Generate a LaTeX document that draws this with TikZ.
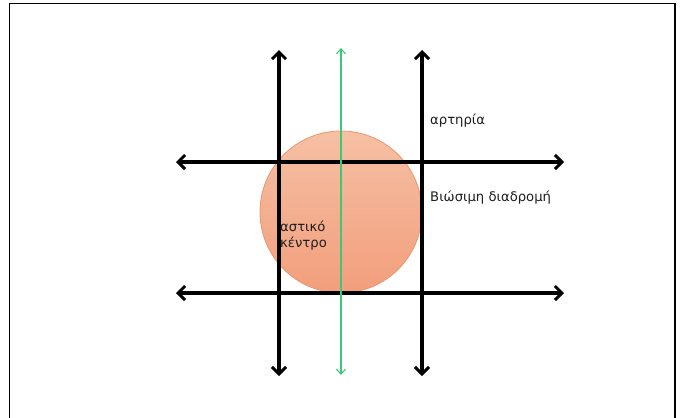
\documentclass[tikz,border=0pt]{standalone}
\usepackage{fontspec}
\setmainfont{DejaVu Sans}
\usetikzlibrary{arrows.meta}
\definecolor{circtop}{HTML}{F5C0A4}
\definecolor{circbot}{HTML}{F29E7C}
\definecolor{circedge}{HTML}{EC9670}
\definecolor{greenline}{HTML}{3CC878}
\definecolor{txt}{HTML}{1E1E1E}
\tikzset{
  road/.style={line width=3.4pt, black, {Straight Barb[length=7pt,width=14pt,line width=3pt]}-{Straight Barb[length=7pt,width=14pt,line width=3pt]}},
  route/.style={line width=1.2pt, greenline, {Straight Barb[length=5pt,width=9pt,line width=1.1pt]}-{Straight Barb[length=5pt,width=9pt,line width=1.1pt]}},
  lbl/.style={font=\fontsize{13.2}{15}\selectfont, text=txt, inner sep=0pt, anchor=west, align=left},
  frame/.style={line width=1.5pt, black}
}
\begin{document}
\begin{tikzpicture}[x=1pt,y=-1pt]
\useasboundingbox (0,0) rectangle (681,418);
\draw[frame] (9.5,420) -- (9.5,3.5) -- (675,3.5) -- (675,420);
% urban centre
\node[circle, minimum size=162pt, inner sep=0pt, draw=circedge, line width=0.8pt,
      top color=circtop, bottom color=circbot] (centre) at (341,212) {};
% coordinates
\coordinate (v1t) at (279,50);  \coordinate (v1b) at (279,376);
\coordinate (v2t) at (422,50);  \coordinate (v2b) at (422,376);
\coordinate (gt)  at (341,48);  \coordinate (gb)  at (341,375);
\coordinate (h1l) at (176,162); \coordinate (h1r) at (564,162);
\coordinate (h2l) at (176,293); \coordinate (h2r) at (564,293);
\draw[road] (v1b) -- (v1t);
\draw[road] (v2b) -- (v2t);
\draw[road] (h1l) -- (h1r);
\draw[road] (h2l) -- (h2r);
\draw[route] (gb) -- (gt);
% labels
\node[lbl] (artery) at (430,121) {αρτηρία};
\node[lbl] (viable) at (430,198) {Βιώσιμη διαδρομή};
\node[lbl] (urban1) at (280,226) {αστικό};
\node[lbl] (urban2) at (280,244) {κέντρο};
\end{tikzpicture}
\end{document}
